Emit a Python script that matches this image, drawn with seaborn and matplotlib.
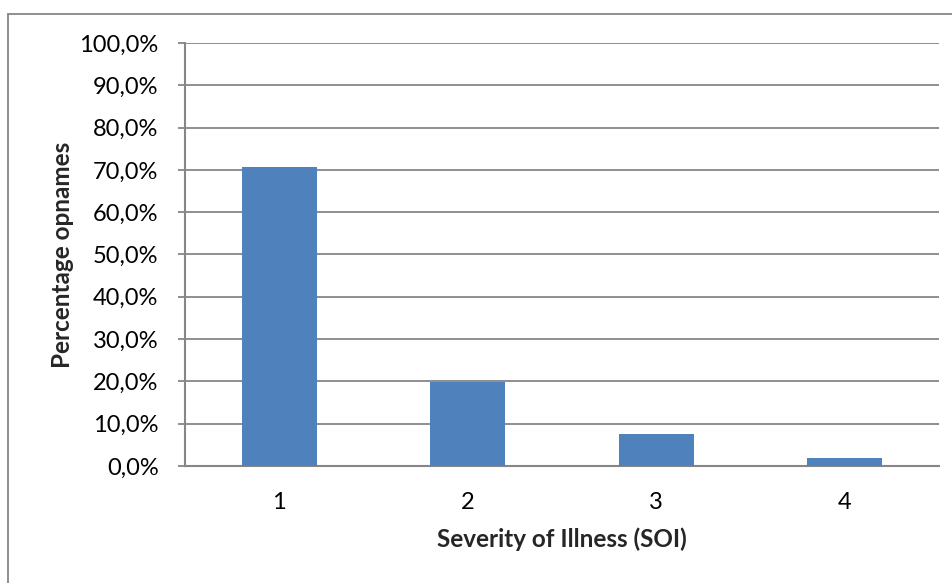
import matplotlib
matplotlib.use("Agg")
import matplotlib.pyplot as plt
from matplotlib.lines import Line2D
import seaborn as sns
import pandas as pd

# Share of admissions per Severity of Illness level
soi_levels = ["1", "2", "3", "4"]
pct_admissions = [70.6, 19.8, 7.5, 2.0]
y_ticks = [0, 10, 20, 30, 40, 50, 60, 70, 80, 90, 100]

sns.set_theme(style="white")
plt.rcParams["font.family"] = ["Lato", "DejaVu Sans"]

grey = "#868686"
bar_blue = "#4F81BD"

fig = plt.figure(figsize=(9.53, 5.83), dpi=100)
ax = fig.add_axes([185 / 953, 1 - 466 / 583, (939 - 185) / 953, (466 - 43) / 583])

df = pd.DataFrame({"soi": soi_levels, "pct": pct_admissions})
sns.barplot(data=df, x="soi", y="pct", color=bar_blue, width=0.4, saturation=1,
            edgecolor="none", ax=ax, zorder=3)

ax.set_ylim(0, 100)
ax.set_xlim(-0.5, 3.5)
ax.set_yticks(y_ticks)
ax.set_yticklabels([f"{v:.1f}%".replace(".", ",") for v in y_ticks])
ax.yaxis.grid(True, color=grey, linewidth=1.3, zorder=0)
ax.set_axisbelow(True)

for side in ["top", "right"]:
    ax.spines[side].set_visible(False)
for side in ["left", "bottom"]:
    ax.spines[side].set_color(grey)
    ax.spines[side].set_linewidth(1.5)

ax.tick_params(axis="y", which="both", left=True, length=5, width=1.3, color=grey,
               labelsize=17, labelcolor="black", pad=14)
ax.tick_params(axis="x", bottom=False, labelsize=17, labelcolor="black", pad=13)

ax.set_xlabel("Severity of Illness (SOI)", fontsize=17.5, fontweight="bold", labelpad=10)
ax.set_ylabel("Percentage opnames", fontsize=17.5, fontweight="bold", labelpad=4)

# outer chart frame (left and top edges)
fig.add_artist(Line2D([8 / 953, 8 / 953], [0, 1 - 14 / 583], color=grey, linewidth=1.3,
                      transform=fig.transFigure))
fig.add_artist(Line2D([8 / 953, 1], [1 - 14 / 583, 1 - 14 / 583], color=grey, linewidth=1.3,
                      transform=fig.transFigure))

fig.savefig("out.png", dpi=100)
